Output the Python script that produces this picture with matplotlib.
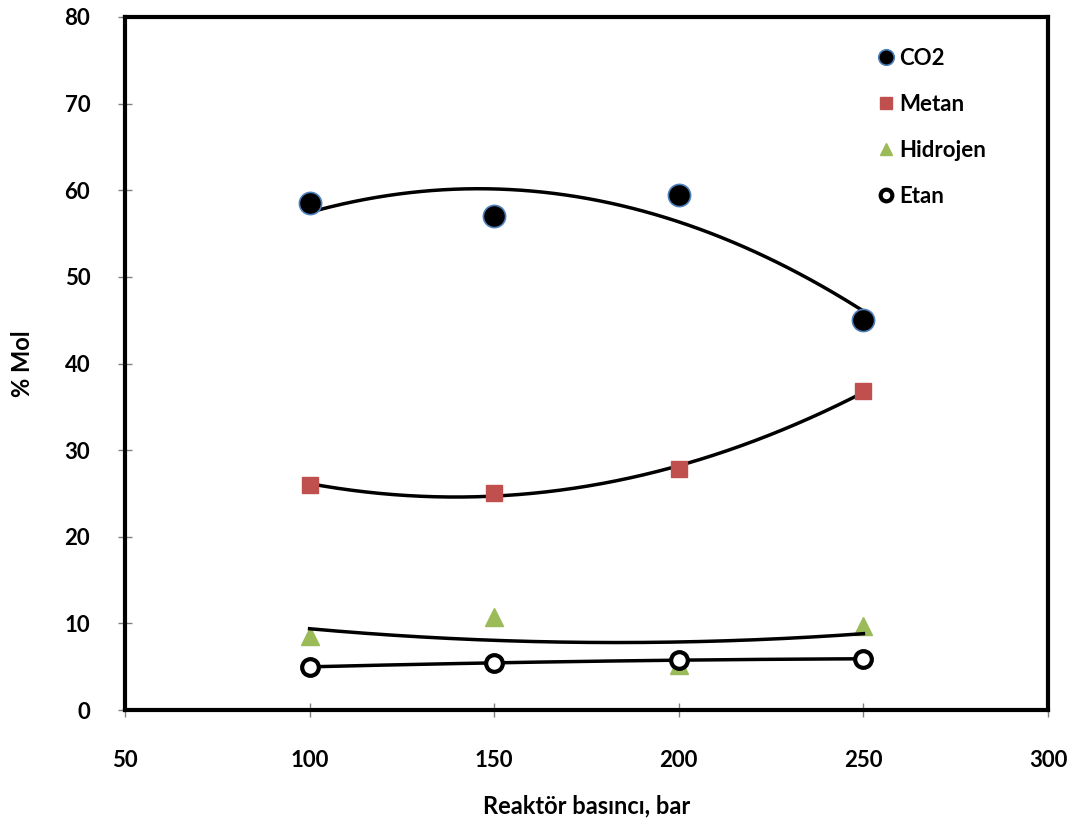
import matplotlib.pyplot as plt
import numpy as np

plt.rcParams['font.family'] = ['Lato', 'DejaVu Sans']
plt.rcParams['font.weight'] = 'bold'

pressure = [100, 150, 200, 250]
co2 = [58.5, 57.0, 59.5, 45.0]
metan = [26.0, 25.1, 27.8, 36.8]
hidrojen = [8.5, 10.7, 5.2, 9.7]
etan = [5.0, 5.4, 5.8, 5.9]

fig = plt.figure(figsize=(10.82, 8.32), dpi=100)
ax = fig.add_axes([0.1155, 0.1466, 0.8531, 0.833])

x = np.array(pressure)
xs = np.linspace(x.min(), x.max(), 200)

# excel style 2nd order trendlines
for vals in [co2, metan, hidrojen, etan]:
    p = np.polyfit(x, vals, 2)
    ax.plot(xs, np.polyval(p, xs), color='black', lw=2.5, zorder=2)

ax.plot(pressure, co2, 'o', ms=16, mfc='black', mec='#4f81bd', mew=1.2, ls='none', label='CO2', zorder=3)
ax.plot(pressure, metan, 's', ms=12, mfc='#c0504d', mec='#c0504d', ls='none', label='Metan', zorder=3)
ax.plot(pressure, hidrojen, '^', ms=13, mfc='#9bbb59', mec='#9bbb59', ls='none', label='Hidrojen', zorder=1)
ax.plot(pressure, etan, 'o', ms=12, mfc='white', mec='black', mew=3, ls='none', label='Etan', zorder=3)

ax.set_xlim(50, 300)
ax.set_ylim(0, 80)
ax.set_xticks([50, 100, 150, 200, 250, 300])
ax.set_yticks(range(0, 81, 10))
ax.tick_params(direction='inout', length=10, width=1, color='gray', labelsize=16, pad=20)
ax.tick_params(axis='x', pad=24)
for s in ax.spines.values():
    s.set_linewidth(3)
    s.set_color('black')

ax.set_xlabel('Reaktör basıncı, bar', fontsize=17, fontweight='bold', labelpad=17)
ax.set_ylabel('% Mol', fontsize=17, fontweight='bold', labelpad=22)

leg = ax.legend(loc='upper right', bbox_to_anchor=(0.955, 0.984), frameon=False, fontsize=16,
                markerscale=0.7, handlelength=0.6, handletextpad=0.3, labelspacing=1.12)

fig.savefig('out.png', dpi=100)
